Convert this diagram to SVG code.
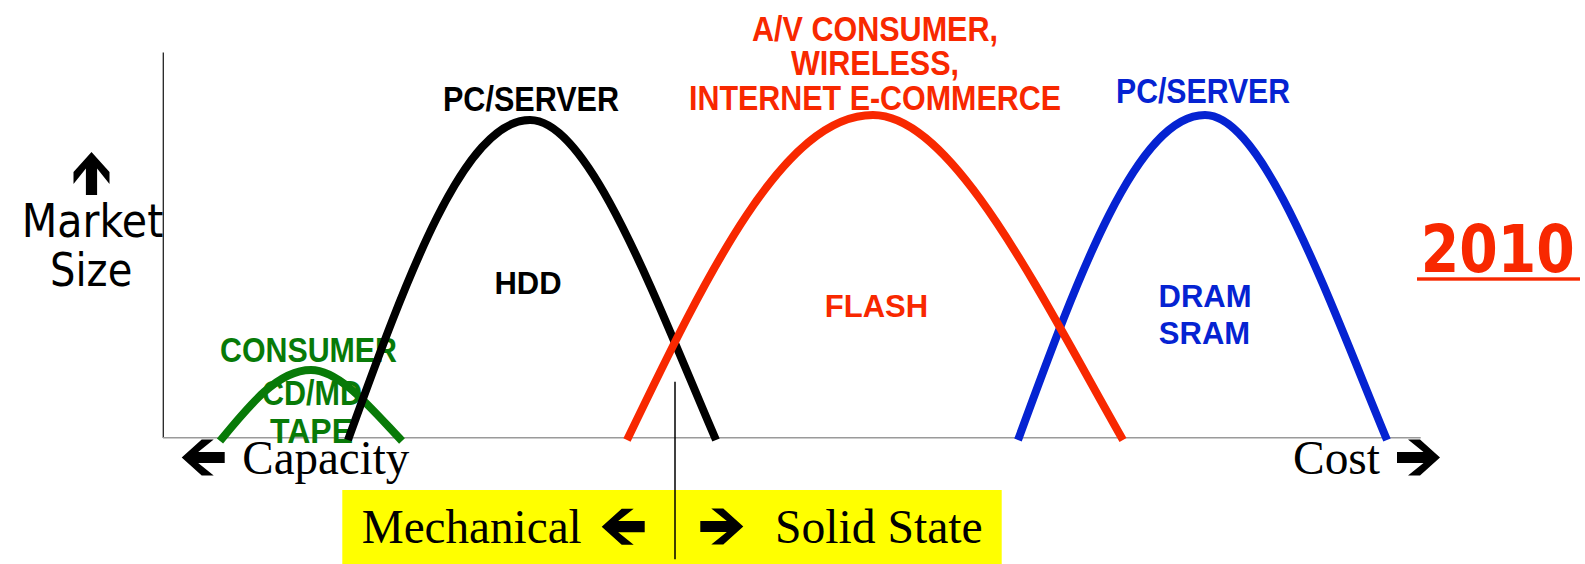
<svg xmlns="http://www.w3.org/2000/svg" xmlns:xlink="http://www.w3.org/1999/xlink" width="1585" height="564" viewBox="0 0 1585 564">
  <style>
    .curve { fill: none; stroke-width: 8; stroke-linecap: butt; stroke-linejoin: round; }
    .lbl { font-family: "Liberation Sans", Arial, sans-serif; font-weight: bold; text-anchor: middle; }
    .top { font-size: 35px; }
    .mid { font-size: 31px; }
    .grn { font-size: 35px; fill: #087A08; }
    .serif { font-family: "Liberation Serif", "Times New Roman", serif; font-size: 47.5px; fill: #000; }
    .axisT { font-family: "DejaVu Sans", Verdana, sans-serif; font-size: 45.7px; fill: #000; }
    .blk { fill: #000; }
    .red { fill: #F82800; }
    .blu { fill: #0523D2; }
  </style>
  <defs>
    <!-- chunky chevron arrow, tip at origin, pointing right -->
    <path id="arrow" d="M0,0 L-20,-18 L-32,-18 L-16.5,-5.6 L-43,-5.6 L-43,5.6 L-16.5,5.6 L-32,18 L-20,18 Z" fill="#000"/>
  </defs>

  <rect width="1585" height="564" fill="#fff"/>

  <!-- axes -->
  <g id="axes">
    <line x1="163.3" y1="52.6" x2="163.3" y2="438" stroke="#222" stroke-width="1.3"/>
    <line x1="163" y1="437.7" x2="1420.7" y2="437.7" stroke="#9a9a9a" stroke-width="1.6"/>
  </g>

  <!-- axis captions -->
  <g id="y-axis-label">
    <use xlink:href="#arrow" transform="translate(91.5,152) rotate(-90)"/>
    <text class="axisT" x="21.7" y="236.7" textLength="141.6" lengthAdjust="spacingAndGlyphs">Market</text>
    <text class="axisT" x="50" y="285.7" textLength="82.3" lengthAdjust="spacingAndGlyphs">Size</text>
  </g>
  <g id="x-axis-capacity">
    <use xlink:href="#arrow" transform="translate(181.7,457.5) rotate(180)"/>
    <text class="serif" x="242.3" y="474" textLength="167" lengthAdjust="spacingAndGlyphs">Capacity</text>
  </g>
  <g id="x-axis-cost">
    <text class="serif" x="1293" y="474" textLength="87" lengthAdjust="spacingAndGlyphs">Cost</text>
    <use xlink:href="#arrow" transform="translate(1440,457.5)"/>
  </g>

  <!-- consumer optical / tape -->
  <g id="node-consumer">
    <text class="lbl grn" x="308.5" y="362" textLength="177" lengthAdjust="spacingAndGlyphs">CONSUMER</text>
    <text class="lbl grn" x="312" y="405" textLength="100" lengthAdjust="spacingAndGlyphs">CD/MD</text>
    <text class="lbl grn" x="311.5" y="443.3" textLength="83" lengthAdjust="spacingAndGlyphs">TAPE</text>
    <path class="curve" stroke="#087A08" stroke-width="7" d="M220,441 C249.7,404.6 278.1,370 311,370 C340.1,370 372.3,409.8 402,441"/>
  </g>

  <!-- hard disk drives -->
  <g id="node-hdd">
    <text class="lbl top blk" x="531" y="111" textLength="176" lengthAdjust="spacingAndGlyphs">PC/SERVER</text>
    <text class="lbl mid blk" x="528" y="294">HDD</text>
    <path class="curve" stroke="#000" d="M348,440 C407.3,276.2 464.1,120 530,120 C589.5,120 655.4,299.2 716,440"/>
  </g>

  <!-- DRAM / SRAM -->
  <g id="node-dram">
    <text class="lbl top blu" x="1203" y="103" textLength="174" lengthAdjust="spacingAndGlyphs">PC/SERVER</text>
    <text class="lbl mid blu" x="1205" y="306.7">DRAM</text>
    <text class="lbl mid blu" x="1204.5" y="344">SRAM</text>
    <path class="curve" stroke="#0523D2" d="M1018,440 C1079,273.6 1137.3,115 1205,115 C1263.2,115 1327.7,297 1387,440"/>
  </g>

  <!-- flash -->
  <g id="node-flash">
    <text class="lbl top red" x="875" y="41" textLength="246" lengthAdjust="spacingAndGlyphs">A/V CONSUMER,</text>
    <text class="lbl top red" x="875" y="75" textLength="168" lengthAdjust="spacingAndGlyphs">WIRELESS,</text>
    <text class="lbl top red" x="875" y="109.5" textLength="372" lengthAdjust="spacingAndGlyphs">INTERNET E-COMMERCE</text>
    <text class="lbl mid red" x="876.5" y="317">FLASH</text>
    <path class="curve" stroke="#F82800" d="M627,440 C707.2,273.6 783.9,115 873,115 C953,115 1041.5,297 1123,440"/>
  </g>

  <!-- year -->
  <g id="year">
    <text x="1420.7" y="271.7" font-family="'DejaVu Sans', Verdana, sans-serif" font-weight="bold" font-size="66" fill="#F82800" textLength="154" lengthAdjust="spacingAndGlyphs">2010</text>
    <rect x="1417" y="277.3" width="163" height="3.4" fill="#F82800"/>
  </g>

  <!-- mechanical vs solid-state band -->
  <g id="band">
    <rect x="342.3" y="490" width="659.4" height="74" fill="#FFFF00"/>
    <text class="serif" x="361.7" y="542.7" textLength="220" lengthAdjust="spacingAndGlyphs">Mechanical</text>
    <use xlink:href="#arrow" transform="translate(601.7,526.7) rotate(180)"/>
    <use xlink:href="#arrow" transform="translate(743.3,526.5)"/>
    <text class="serif" x="775" y="542.7" textLength="207.7" lengthAdjust="spacingAndGlyphs">Solid State</text>
  </g>

  <!-- divider between mechanical and solid-state -->
  <g id="connectors">
    <line x1="675" y1="381.7" x2="675" y2="559.3" stroke="#000" stroke-width="1.5"/>
  </g>
</svg>
